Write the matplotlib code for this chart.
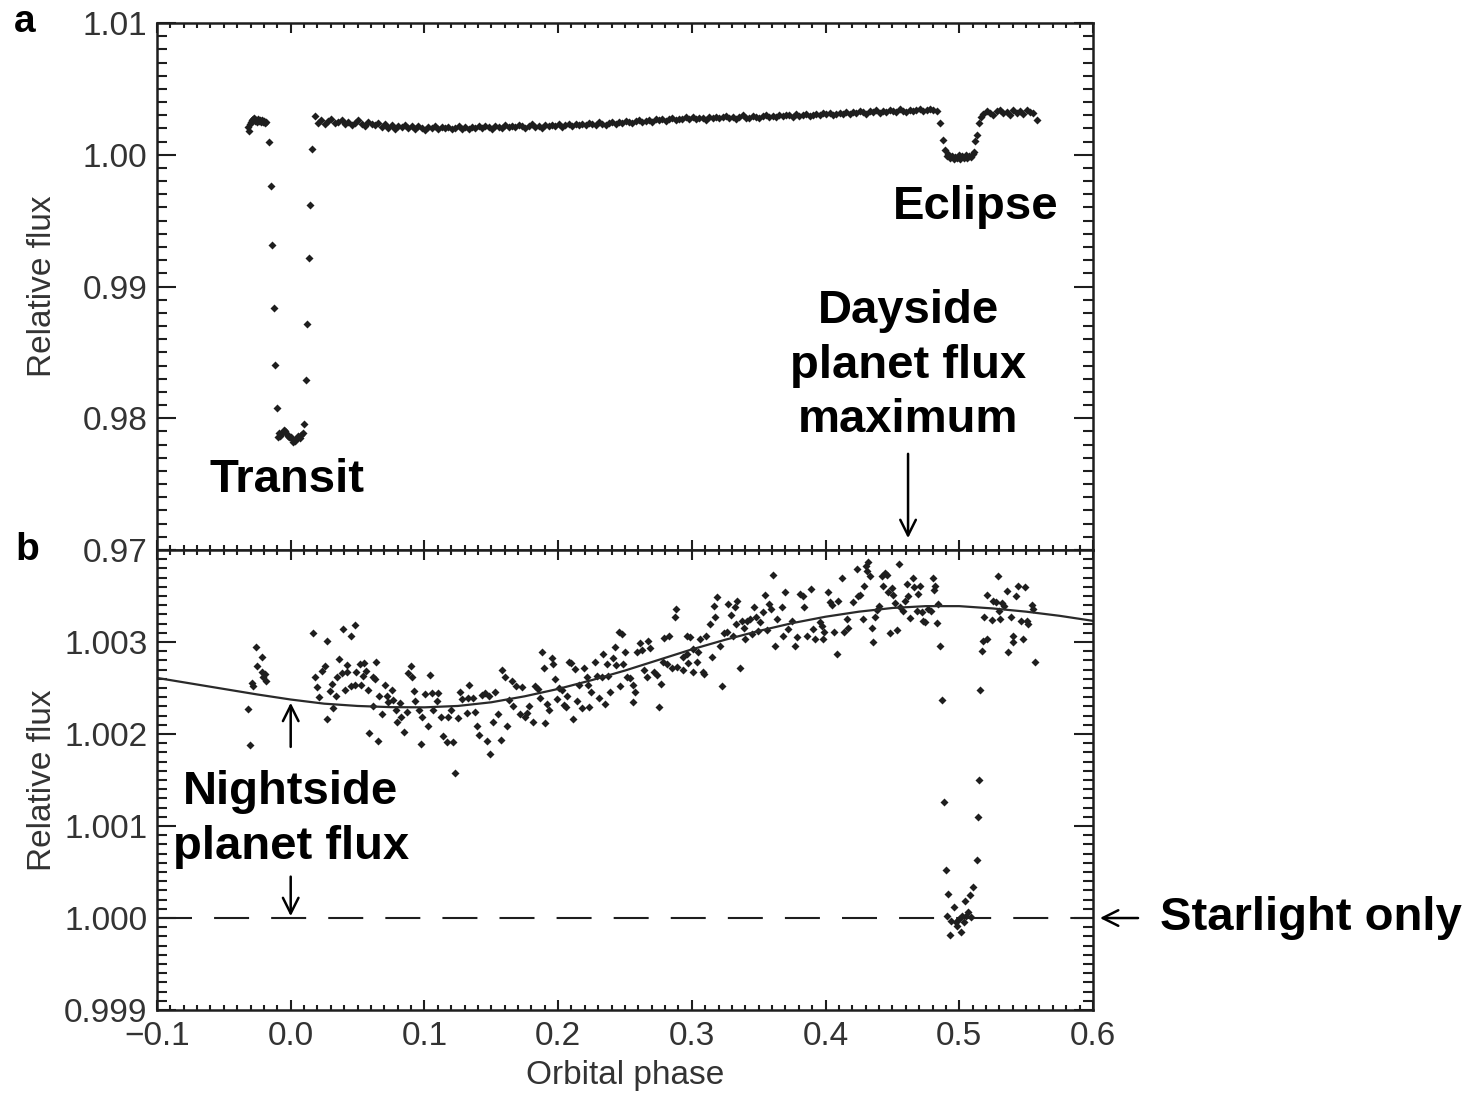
import matplotlib.pyplot as plt
from matplotlib.ticker import MultipleLocator
import numpy as np

plt.rcParams['font.family'] = ['Liberation Sans', 'DejaVu Sans']

# ---------------- panel a: full light curve (flux excess in ppm) ----------------
phase_a_transit = [
    -0.0320, -0.0313, -0.0306, -0.0299, -0.0292, -0.0285, -0.0278, -0.0271, -0.0264, -0.0257,
    -0.0250, -0.0243, -0.0236, -0.0229, -0.0222, -0.0215, -0.0208, -0.0201, -0.0194, -0.0187,
    -0.0162, -0.0150, -0.0138, -0.0127, -0.0115, -0.0102,
    -0.0097, -0.0088, -0.0080, -0.0070, -0.0060, -0.0052, -0.0043, -0.0030, -0.0020, -0.0010,
    0.0000, 0.0008, 0.0020, 0.0030, 0.0040, 0.0057, 0.0066, 0.0075, 0.0090,
    0.0099, 0.0112, 0.0124, 0.0137, 0.0147, 0.0160]
flux_a_transit_ppm = [
    2120, 1820, 2350, 2480, 2600, 2680, 2800, 2720, 2560, 2650,
    2480, 2700, 2560, 2640, 2500, 2640, 2500, 2580, 2430, 2520,
    930, -2350, -6820, -11640, -15980, -19220,
    -21440, -21100, -21340, -21200, -21060, -20900, -20960, -21210, -21350, -21460,
    -21400, -21590, -21800, -21700, -21540, -21340, -21500, -21290, -21140,
    -20400, -17100, -12860, -7860, -3790, 450]

phase_a_base = [
    0.0180, 0.0205, 0.0230, 0.0255, 0.0280, 0.0305, 0.0330, 0.0355, 0.0380, 0.0405,
    0.0430, 0.0455, 0.0480, 0.0505, 0.0530, 0.0555, 0.0580, 0.0605, 0.0630, 0.0655,
    0.0680, 0.0705, 0.0730, 0.0755, 0.0780, 0.0805, 0.0830, 0.0855, 0.0880, 0.0905,
    0.0930, 0.0955, 0.0980, 0.1005, 0.1030, 0.1055, 0.1080, 0.1105, 0.1130, 0.1155,
    0.1180, 0.1205, 0.1230, 0.1255, 0.1280, 0.1305, 0.1330, 0.1355, 0.1380, 0.1405,
    0.1430, 0.1455, 0.1480, 0.1505, 0.1530, 0.1555, 0.1580, 0.1605, 0.1630, 0.1655,
    0.1680, 0.1705, 0.1730, 0.1755, 0.1780, 0.1805, 0.1830, 0.1855, 0.1880, 0.1905,
    0.1930, 0.1955, 0.1980, 0.2005, 0.2030, 0.2055, 0.2080, 0.2105, 0.2130, 0.2155,
    0.2180, 0.2205, 0.2230, 0.2255, 0.2280, 0.2305, 0.2330, 0.2355, 0.2380, 0.2405,
    0.2430, 0.2455, 0.2480, 0.2505, 0.2530, 0.2555, 0.2580, 0.2605, 0.2630, 0.2655,
    0.2680, 0.2705, 0.2730, 0.2755, 0.2780, 0.2805, 0.2830, 0.2855, 0.2880, 0.2905,
    0.2930, 0.2955, 0.2980, 0.3005, 0.3030, 0.3055, 0.3080, 0.3105, 0.3130, 0.3155,
    0.3180, 0.3205, 0.3230, 0.3255, 0.3280, 0.3305, 0.3330, 0.3355, 0.3380, 0.3405,
    0.3430, 0.3455, 0.3480, 0.3505, 0.3530, 0.3555, 0.3580, 0.3605, 0.3630, 0.3655,
    0.3680, 0.3705, 0.3730, 0.3755, 0.3780, 0.3805, 0.3830, 0.3855, 0.3880, 0.3905,
    0.3930, 0.3955, 0.3980, 0.4005, 0.4030, 0.4055, 0.4080, 0.4105, 0.4130, 0.4155,
    0.4180, 0.4205, 0.4230, 0.4255, 0.4280, 0.4305, 0.4330, 0.4355, 0.4380, 0.4405,
    0.4430, 0.4455, 0.4480, 0.4505, 0.4530, 0.4555, 0.4580, 0.4605, 0.4630, 0.4655,
    0.4680, 0.4705, 0.4730, 0.4755, 0.4780, 0.4805, 0.4830]
flux_a_base_ppm = [
    2950, 2380, 2620, 2300, 2550, 2700, 2420, 2480, 2650, 2350,
    2500, 2280, 2420, 2650, 2300, 2180, 2450, 2330, 2240, 2400,
    2120, 2300, 2050, 2230, 1950, 2180, 2080, 2250, 2000, 2150,
    1980, 2150, 2060, 1900, 2120, 2020, 2200, 1960, 2080, 2010,
    2100, 1950, 2060, 2180, 1990, 2080, 1920, 2130, 2040, 2150,
    2000, 2170, 2090, 1960, 2200, 2120, 2050, 2230, 2100, 2180,
    2080, 2240, 2150, 2010, 2200, 2300, 2130, 2220, 2060, 2250,
    2160, 2290, 2200, 2350, 2120, 2270, 2330, 2180, 2300, 2240,
    2370, 2250, 2420, 2310, 2280, 2450, 2360, 2260, 2400, 2480,
    2350, 2500, 2430, 2580, 2450, 2390, 2560, 2620, 2470, 2540,
    2640, 2520, 2700, 2600, 2750, 2580, 2680, 2800, 2620, 2720,
    2680, 2850, 2740, 2900, 2700, 2820, 2760, 2650, 2880, 2790,
    2900, 2760, 2830, 2950, 2800, 2880, 2720, 2860, 2980, 2820,
    2800, 2950, 2880, 2780, 2920, 3020, 2860, 2940, 2890, 3000,
    2920, 3050, 2980, 2880, 3080, 2960, 3010, 3120, 2950, 3040,
    3100, 2990, 3150, 3060, 3200, 3030, 3120, 3180, 3070, 3250,
    3120, 3280, 3180, 3350, 3220, 3100, 3300, 3260, 3400, 3180,
    3320, 3220, 3400, 3300, 3250, 3450, 3330, 3280, 3380, 3300,
    3360, 3450, 3300, 3420, 3500, 3380, 3330]

phase_a_eclipse = [
    0.4856, 0.4880, 0.4894, 0.4905, 0.4918, 0.4931, 0.4944, 0.4957, 0.4970, 0.4983,
    0.4996, 0.5009, 0.5022, 0.5035, 0.5048, 0.5061, 0.5074, 0.5087, 0.5100, 0.5112,
    0.5120, 0.5132, 0.5148, 0.5165,
    0.5180, 0.5205, 0.5230, 0.5255, 0.5280, 0.5305, 0.5330, 0.5355, 0.5380, 0.5405,
    0.5430, 0.5455, 0.5480, 0.5505, 0.5530, 0.5555, 0.5580]
flux_a_eclipse_ppm = [
    2400, 1100, 380, -100, 40, -250, -80, -330, -150, -260,
    -50, -300, -120, -220, -10, -280, -90, -200, 60, 200,
    1010, 1515, 2400, 2900,
    3100, 3350, 3200, 3000, 3300, 3420, 3150, 3250, 3050, 3380,
    3200, 3300, 3100, 3400, 3250, 3150, 2600]

# ---------------- panel b: zoomed light curve (flux excess in ppm) ----------------
phase_b = [
    -0.0317, -0.0304, -0.0292, -0.0280, -0.0260, -0.0250, -0.0217, -0.0212, -0.0205, -0.0192, -0.0185,
    0.0169, 0.0182, 0.0199, 0.0214, 0.0231, 0.0256, 0.0269, 0.0274, 0.0294, 0.0306,
    0.0319, 0.0339, 0.0349, 0.0364, 0.0381, 0.0389, 0.0406, 0.0419, 0.0423, 0.0449,
    0.0452, 0.0481, 0.0483, 0.0488, 0.0518, 0.0523, 0.0543, 0.0548, 0.0563, 0.0581,
    0.0585, 0.0613, 0.0618, 0.0631, 0.0636, 0.0651, 0.0663, 0.0681, 0.0705, 0.0718,
    0.0730, 0.0756, 0.0768, 0.0788, 0.0793, 0.0818, 0.0823, 0.0847, 0.0868, 0.0880,
    0.0898, 0.0905, 0.0922, 0.0930, 0.0962, 0.0972, 0.0980, 0.1005, 0.1029, 0.1042,
    0.1055, 0.1067, 0.1092, 0.1104, 0.1122, 0.1142, 0.1167, 0.1179, 0.1197, 0.1212,
    0.1229, 0.1249, 0.1266, 0.1279, 0.1321, 0.1328, 0.1336,
    0.1361, 0.1379, 0.1391, 0.1411, 0.1429, 0.1453, 0.1466, 0.1486, 0.1491, 0.1511,
    0.1528, 0.1553, 0.1571, 0.1578, 0.1603, 0.1616, 0.1636, 0.1653, 0.1665, 0.1686,
    0.1715, 0.1728, 0.1753, 0.1770, 0.1785, 0.1815, 0.1828, 0.1853, 0.1866, 0.1878,
    0.1891, 0.1903, 0.1920, 0.1935, 0.1953, 0.1965, 0.1978, 0.1990, 0.2010, 0.2027,
    0.2044, 0.2059, 0.2069, 0.2084, 0.2094, 0.2114, 0.2126, 0.2144, 0.2159, 0.2176,
    0.2194, 0.2214, 0.2226, 0.2233, 0.2244, 0.2276, 0.2288, 0.2308, 0.2326, 0.2333,
    0.2351, 0.2363, 0.2376, 0.2388, 0.2413, 0.2426, 0.2433, 0.2458, 0.2463, 0.2476,
    0.2488, 0.2501, 0.2518, 0.2538, 0.2558, 0.2563, 0.2575, 0.2593, 0.2613, 0.2625,
    0.2643, 0.2663, 0.2675, 0.2687, 0.2717, 0.2737, 0.2757, 0.2767, 0.2782, 0.2792,
    0.2817, 0.2832, 0.2850, 0.2874, 0.2882, 0.2892,
    0.2932, 0.2937, 0.2962, 0.2967, 0.2970, 0.2987, 0.3008, 0.3012, 0.3037, 0.3049,
    0.3062, 0.3087, 0.3091, 0.3106, 0.3136, 0.3149, 0.3166, 0.3174, 0.3186, 0.3211,
    0.3224, 0.3241, 0.3261, 0.3273, 0.3291, 0.3306, 0.3323, 0.3331, 0.3341, 0.3361,
    0.3373, 0.3391, 0.3398, 0.3411, 0.3435, 0.3448, 0.3465, 0.3480, 0.3498, 0.3510,
    0.3535, 0.3548, 0.3560, 0.3580, 0.3590, 0.3605, 0.3622, 0.3635, 0.3672, 0.3680,
    0.3697, 0.3722, 0.3747, 0.3772, 0.3784, 0.3809, 0.3829, 0.3839, 0.3859, 0.3889,
    0.3909, 0.3921, 0.3959, 0.3971, 0.3984, 0.3989, 0.4021, 0.4034, 0.4046, 0.4064,
    0.4084, 0.4096, 0.4121, 0.4139, 0.4159, 0.4171, 0.4209, 0.4233, 0.4246, 0.4258,
    0.4278, 0.4288, 0.4303, 0.4313, 0.4320, 0.4333, 0.4346, 0.4358, 0.4371, 0.4388,
    0.4403, 0.4421, 0.4433, 0.4446, 0.4458, 0.4470, 0.4483, 0.4496, 0.4508, 0.4521,
    0.4538, 0.4548, 0.4557, 0.4578, 0.4595, 0.4608, 0.4620, 0.4633, 0.4653, 0.4662,
    0.4683, 0.4695, 0.4707, 0.4720, 0.4732, 0.4744, 0.4769, 0.4787, 0.4802, 0.4811,
    0.4819, 0.4836, 0.4844, 0.4856, 0.4869,
    0.4884, 0.4899, 0.4908, 0.4917, 0.4933, 0.4939, 0.4960, 0.4975, 0.4984, 0.4999,
    0.5014, 0.5023, 0.5038, 0.5044, 0.5053, 0.5065, 0.5077, 0.5090, 0.5105, 0.5129,
    0.5138, 0.5150, 0.5158, 0.5167,
    0.5181, 0.5186, 0.5206, 0.5211, 0.5243, 0.5256, 0.5276, 0.5286, 0.5294, 0.5306,
    0.5319, 0.5336, 0.5356, 0.5368, 0.5386, 0.5401, 0.5405, 0.5425, 0.5443, 0.5460,
    0.5475, 0.5492, 0.5505, 0.5517, 0.5542, 0.5555, 0.5567]
flux_b_ppm = [
    2272, 1880, 2554, 2525, 2942, 2736, 2671, 2840, 2616, 2652, 2579,
    3098, 2616, 2508, 2399, 2688, 2736, 2163, 3008, 2471, 2543,
    2279, 2410, 2616, 2815, 2663, 3141, 2482, 2671, 2750, 3062,
    2519, 2533, 3185, 2671, 2761, 2533, 2634, 2772, 2688, 2482,
    2011, 2616, 2301, 2598, 2786, 1928, 2410, 2218, 2533, 2410,
    2345, 2482, 2373, 2264, 2127, 2337, 2181, 2025, 2242, 2663,
    2736, 2616, 2471, 2362, 2264, 1891, 2181, 2435, 2090, 2641,
    2446, 2264, 2362, 2446, 2181, 1981, 1916, 2188, 2264, 1916,
    1576, 2171, 2460, 2380, 2228, 2388, 2533,
    2388, 2236, 2083, 1989, 2424, 2446, 1928, 2417, 1783, 2130,
    2460, 2218, 1938, 2700, 2616, 2083, 2373, 2579, 2308, 2518,
    2218, 2508, 2181, 2228, 2301, 2130, 2518, 2489, 2388, 2895,
    2714, 2119, 2326, 2264, 2823, 2761, 2598, 2380, 2497, 2482,
    2315, 2290, 2417, 2786, 2772, 2163, 2706, 2362, 2533, 2279,
    2714, 2616, 2533, 2290, 2453, 2786, 2627, 2388, 2616, 2870,
    2326, 2761, 2634, 2460, 2823, 2942, 2750, 3112, 2518, 3087,
    2761, 2895, 2616, 2605, 2351, 2533, 2453, 2888, 2989, 2916,
    2699, 2616, 3014, 2931, 2678, 2641, 2290, 2543, 2786, 3040,
    2761, 3062, 2714, 3268, 3359, 2725,
    2699, 2834, 2870, 3068, 2772, 3051, 2924, 2670, 2779, 2888,
    3033, 2670, 2652, 3068, 3196, 2834, 3395, 3268, 3486, 2960,
    2525, 3098, 3105, 3413, 3293, 3068, 3377, 3196, 3449, 2714,
    3232, 3149, 3033, 3232, 3250, 3087, 3377, 3268, 3123, 3214,
    3329, 3511, 3134, 3413, 3359, 3728, 2960, 3250, 3377, 3068,
    3540, 3141, 3232, 2953, 3051, 3522, 3496, 3377, 3068, 3576,
    3141, 3033, 3221, 3171, 3033, 3112, 3547, 3431, 3402, 3112,
    2870, 3449, 3692, 3112, 3250, 3149, 3431, 3794, 3496, 3511,
    3250, 3605, 3822, 3775, 3866, 3721, 3149, 3004, 3268, 3351,
    3395, 3713, 3605, 3750, 3728, 3540, 3098, 3583, 3511, 3424,
    3134, 3848, 3377, 3340, 3449, 3631, 3496, 3257, 3692, 3594,
    3340, 3522, 3613, 3329, 3232, 3214, 3359, 3340, 3692, 3568,
    3613, 3207, 3413, 2960, 2373,
    1258, 525, 25, 261, -182, -29, 116, -47, -84, -11,
    -149, 18, -47, 188, 25, 62, 253, 7, 340, 630,
    1094, 1503, 2482, 2905,
    3014, 3268, 3033, 3511, 3242, 3449, 3438, 3714, 3340, 3250,
    3424, 3395, 3558, 2888, 3268, 3068, 2996, 3496, 3605, 3232,
    3033, 3594, 3232, 3196, 3402, 3359, 2786]

# phase-curve model
model_phase = [-0.1, -0.075, -0.05, -0.025, 0.0, 0.025, 0.05, 0.075, 0.1, 0.125, 0.15,
               0.175, 0.2, 0.225, 0.25, 0.275, 0.3, 0.325, 0.35, 0.375, 0.4, 0.425,
               0.45, 0.475, 0.5, 0.525, 0.55, 0.575, 0.6]
model_ppm = [2610, 2550, 2490, 2430, 2375, 2330, 2305, 2292, 2290, 2305, 2345,
             2410, 2490, 2585, 2690, 2805, 2920, 3025, 3120, 3205, 3275, 3330,
             3370, 3390, 3390, 3365, 3330, 3285, 3230]
starlight_level = 1.000

x_ticks = [-0.1, 0.0, 0.1, 0.2, 0.3, 0.4, 0.5, 0.6]
x_tick_labels = ['\u22120.1', '0.0', '0.1', '0.2', '0.3', '0.4', '0.5', '0.6']
a_yticks = [0.97, 0.98, 0.99, 1.00, 1.01]
a_ytick_labels = ['0.97', '0.98', '0.99', '1.00', '1.01']
b_yticks = [0.999, 1.000, 1.001, 1.002, 1.003, 1.004]
b_ytick_labels = ['0.999', '1.000', '1.001', '1.002', '1.003', '']


def to_flux(ppm):
    return 1.0 + np.asarray(ppm) * 1e-6


ink = '#1e1e1e'
label_col = '#333333'

fig = plt.figure(figsize=(14.81, 10.95), dpi=100)
ax1 = fig.add_axes([0.106, 0.4977, 0.632, 0.4813])
ax2 = fig.add_axes([0.106, 0.0776, 0.632, 0.4201])

pt_style = dict(ls='none', marker='D', ms=4.0, mec='none', color=ink)
ax1.plot(phase_a_transit, to_flux(flux_a_transit_ppm), **pt_style)
ax1.plot(phase_a_base, to_flux(flux_a_base_ppm), **pt_style)
ax1.plot(phase_a_eclipse, to_flux(flux_a_eclipse_ppm), **pt_style)

ax2.plot(phase_b, to_flux(flux_b_ppm), **pt_style)
ax2.plot(model_phase, to_flux(model_ppm), color='#2a2a2a', lw=1.6)
ax2.axhline(starlight_level, color=ink, lw=1.5, dashes=(16.8, 10.6))

for ax in (ax1, ax2):
    ax.set_xlim(-0.1, 0.6)
    ax.set_xticks(x_ticks)
    ax.xaxis.set_minor_locator(MultipleLocator(0.01))
    ax.tick_params(which='both', direction='in', top=True, right=True,
                   width=1.5, color=ink, labelcolor=label_col, labelsize=24)
    ax.tick_params(axis='x', which='major', length=7.5, pad=8)
    ax.tick_params(axis='x', which='minor', length=3.8)
    ax.tick_params(axis='y', which='major', length=13.5, pad=7)
    ax.tick_params(axis='y', which='minor', length=7)
    for sp in ax.spines.values():
        sp.set_linewidth(1.8)
        sp.set_color(ink)

ax1.set_ylim(0.97, 1.01)
ax1.set_yticks(a_yticks, labels=a_ytick_labels)
ax1.yaxis.set_minor_locator(MultipleLocator(0.001))
ax1.tick_params(axis='x', labelbottom=False)

ax2.set_ylim(0.999, 1.004)
ax2.set_yticks(b_yticks, labels=b_ytick_labels)
ax2.yaxis.set_minor_locator(MultipleLocator(0.0001))
ax2.set_xticks(x_ticks, labels=x_tick_labels)

for ax in (ax1, ax2):
    ax.set_ylabel('Relative flux', fontsize=24, color=label_col)
    ax.yaxis.set_label_coords(-0.106, 0.5)
ax2.set_xlabel('Orbital phase', fontsize=24, color=label_col)
ax2.xaxis.set_label_coords(0.5, -0.108)

# annotations
bold = dict(fontsize=34, fontweight='bold', color='black', ha='center', va='center')
arrow = dict(arrowstyle='->', lw=1.8, color='black', mutation_scale=28, shrinkA=0, shrinkB=0)

ax1.text(-0.003, 0.9753, 'Transit', **bold)
ax1.text(0.512, 0.9960, 'Eclipse', **bold)
ax1.text(0.4617, 0.9840, 'Dayside\nplanet flux\nmaximum', linespacing=1.3, **bold)
ax1.annotate('', xy=(0.4617, 0.9709), xytext=(0.4617, 0.9773), arrowprops=arrow)

ax2.text(0.0, 1.00107, 'Nightside\nplanet flux', linespacing=1.3, **bold)
ax2.annotate('', xy=(0.0, 1.00234), xytext=(0.0, 1.00186), arrowprops=arrow)
ax2.annotate('', xy=(0.0, 1.00002), xytext=(0.0, 1.00045), arrowprops=arrow)
ax2.annotate('', xy=(0.6052, starlight_level), xytext=(0.6337, starlight_level),
             arrowprops=arrow, annotation_clip=False)
ax2.text(0.6501, starlight_level, 'Starlight only', fontsize=34, fontweight='bold',
         ha='left', va='center', clip_on=False)

fig.text(25 / 1481, 1 - 32 / 1095, 'a', fontsize=28, fontweight='bold', ha='center', va='baseline')
fig.text(27 / 1481, 1 - 560 / 1095, 'b', fontsize=28, fontweight='bold', ha='center', va='baseline')

fig.savefig('out.png', dpi=100)
